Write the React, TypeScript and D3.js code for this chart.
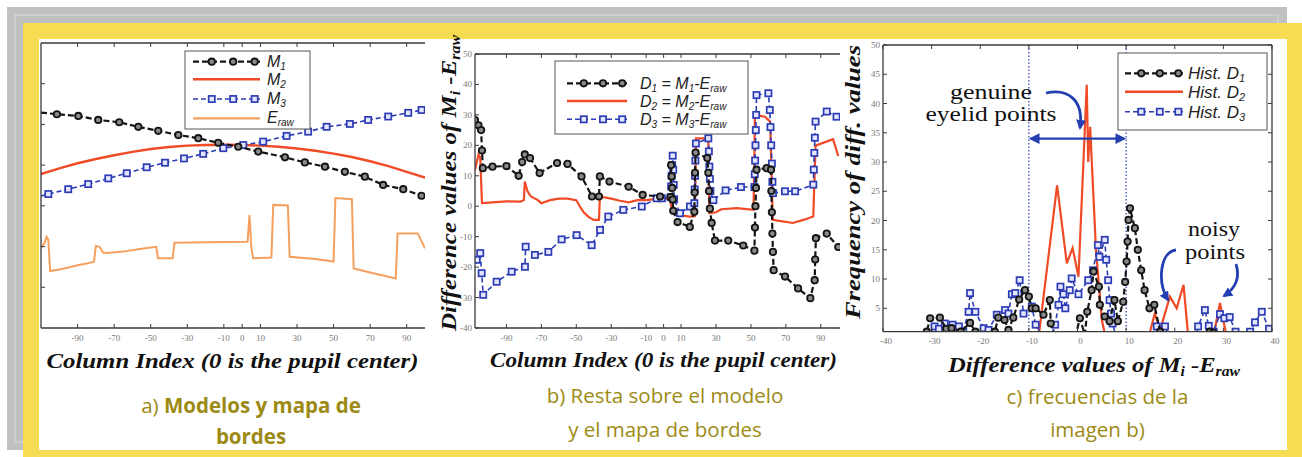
import React from 'react';
import * as d3 from 'd3';

// ---------------- Panel a: models and edge map ----------------
const aM1Cols = [-110, -101.3, -89.6, -78.7, -67.2, -56.8, -45.9, -34.9, -24, -13.1, -2.1, 8.8, 23.4, 34.3, 45.3, 56.2, 67.1, 77.1, 88.1, 98.1];
const aM1Vals = [75.6, 75.0, 74.4, 73.0, 72.2, 70.6, 69.2, 67.7, 66.6, 65.0, 63.6, 61.9, 59.9, 58.1, 56.6, 54.8, 53.1, 50.2, 48.7, 46.4];
const aM2Cols = [-110, -100, -90, -80, -70, -60, -50, -40, -30, -20, -10, 0, 10, 20, 30, 40, 50, 60, 70, 80, 90, 100];
const aM2Vals = [54, 56, 57.8, 59.3, 60.6, 61.8, 62.8, 63.5, 64, 64.2, 64.3, 64.2, 64, 63.6, 63, 62.2, 61.2, 60, 58.5, 56.8, 54.8, 52.8];
const aM3Cols = [-110, -106, -95.1, -84.2, -73.2, -63.1, -52.2, -42.2, -31.8, -21.3, -10.3, 0.6, 11.5, 24.3, 36.1, 46.2, 58.9, 68.9, 79.9, 90.8, 98.1];
const aM3Vals = [46.3, 47.0, 48.7, 50.5, 52.5, 54.3, 56.4, 58.0, 59.5, 61.1, 63.1, 64.2, 65.4, 67.4, 68.9, 70.6, 71.6, 73.0, 74.2, 75.5, 76.5];
const aErawCols = [-110, -108, -107, -106, -105, -100, -95, -90, -85, -81, -80, -78, -76, -74, -65, -55, -47, -46, -38, -37, -20, 3, 4, 5, 6, 16, 17, 25, 26, 40, 50, 51, 60, 61, 70, 84, 85, 96, 100];
const aErawVals = [28, 30, 32, 31, 20, 20.5, 21.2, 22, 22.6, 23.3, 28.8, 28.5, 26.5, 26.3, 26.8, 27.8, 28.5, 24.5, 24.5, 29.9, 30.1, 30.3, 39.6, 28.5, 24.5, 24.7, 43.2, 43.0, 25, 24.2, 23.3, 45.6, 45.2, 20.9, 19.5, 17.4, 33.2, 33.2, 28];
const aXTicks = [-90, -70, -50, -30, -10, 0, 10, 30, 50, 70, 90];
const aYTicks = [1, 2, 3, 4, 5, 6].map(i => (i * 100) / 7);

// ---------------- Panel b: differences ----------------
const bD1Cols = [-108, -106, -104.5, -104, -103.5, -98, -90, -83, -81, -79.5, -76.5, -71, -61, -55, -47, -41, -37, -36.5, -31, -20, -12, -2, 4, 4.3, 4.6, 4.9, 5.2, 5.5, 8, 15, 17.6, 17.8, 18, 18.3, 25, 25.6, 26, 26.5, 27.5, 29.4, 37, 45.6, 52, 52.3, 52.6, 52.9, 53.2, 59, 61.5, 61.7, 62, 62.3, 62.6, 63, 69.5, 77, 84, 86.5, 86.8, 87.2, 93.4, 100];
const bD1Vals = [28.3, 26.6, 25, 18.3, 12.5, 13, 13.2, 10, 14.5, 17, 15.8, 10.9, 14.2, 13.9, 9.8, 3.2, 3.2, 9.8, 8.1, 6.4, 3.7, 3.2, 3, 13.5, 9.8, 6, 2.2, -1.5, -5.2, -6.8, -1.8, 4.5, 11, 17.6, 15.8, 11, 5, -0.8, -5.5, -11.3, -11.3, -12.9, -14.6, -7, 0, 6, 12, 12.5, 12, 5, -2, -9, -15, -21, -23.1, -27, -30.2, -24.3, -17.5, -10.5, -9, -13.4];
const bD2Cols = [-108, -106, -105, -104, -100, -90, -82, -80, -79.5, -78, -76, -72, -70, -65, -60, -55, -50, -48, -46, -43, -40, -37, -36.5, -30, -25, -20, -15, -10, -5, 0, 3, 4, 5, 10, 15, 18, 18.5, 25.6, 26.2, 30, 33, 42, 51.5, 52.3, 58, 61, 62.5, 68, 74, 80, 85.7, 87, 97, 100];
const bD2Vals = [12, 17, 16, 1, 1.2, 1.6, 1.5, 2, 8.1, 5, 3.2, 2, 1, 2, 2.5, 2.5, 2, 0, -1.8, -3.5, -4.5, -4.5, 3.2, 2.5, 1.8, 1.3, 2, 2, 2.3, 2.5, 2.5, 1, -2.3, -3, -3.4, -3.2, 22.3, 22.3, -2.3, -2, -1, -0.6, -1.2, 30, 29.4, 27.8, -4.5, -5, -5.5, -4.5, -3.4, 19.9, 22, 16.5];
const bD3Cols = [-107, -105, -104.2, -103.3, -95.6, -87, -79.4, -79, -73.7, -66, -58.4, -49.8, -41.2, -36.4, -31.7, -23.1, -12.5, -4, -1, 4, 4.3, 4.6, 4.9, 5.2, 5.5, 5.8, 6, 9.4, 15.1, 17.6, 17.8, 18, 18.2, 18.5, 25.6, 25.9, 26.2, 26.5, 26.8, 28.5, 35.5, 44.3, 52, 52.2, 52.4, 52.6, 52.8, 53, 53.2, 60, 60.8, 61.2, 61.6, 62, 62.3, 62.6, 69.5, 75.3, 85.7, 86, 86.3, 86.6, 87, 93.4, 99];
const bD3Vals = [-17.6, -15.4, -22, -29.1, -24.8, -21.5, -19.9, -13.3, -16, -15, -10.9, -9.5, -12.8, -7.8, -3.4, -1.2, -0.1, 2.6, 2.6, 3, 6.5, 10, 13.5, 16.6, 12, 7, 2.3, -2.3, -0.1, 1, 5.5, 10, 15, 20.6, 22.3, 18, 13, 9, 5, 2, 5.2, 6.3, 6.3, 10.5, 15, 20, 25, 30, 36.5, 37.1, 31.6, 26, 20, 14, 8, 4.3, 4.9, 4.9, 7.1, 12, 17.5, 22.5, 27.8, 31.1, 29.4];
const bYTicks = [-40, -30, -20, -10, 0, 10, 20, 30, 40, 50];

// ---------------- Panel c: histograms ----------------
const cH1X = [-32, -31, -30.3, -28.3, -27, -25.9, -24, -22.1, -21, -20, -17, -16.3, -15, -14.2, -13.2, -12, -10.8, -10, -9.4, -8.6, -7, -5.7, -5.5, -4.5, -0.5, 0.5, 1.5, 2, 2.9, 3.3, 4.4, 4.6, 5.6, 6.6, 7.6, 8.3, 9.4, 9.8, 10.1, 10.3, 10.5, 10.8, 11.8, 12.4, 13.1, 13.8, 14.8, 15.8, 17, 18, 26, 27.2, 28, 29];
const cH1Y = [0, 1, 3.3, 3.4, 1.5, 1.6, 1, 2.5, 1, 0, 1, 3.4, 3, 1.3, 3.4, 6.5, 8.1, 7, 5, 5, 3.9, 6.4, 2.4, 0, 0, 3.3, 0.5, 4.4, 8.1, 11.3, 8.7, 5.6, 3.6, 2.8, 6.4, 2.8, 6.1, 9.5, 13, 16.4, 20.1, 22.1, 18.7, 15, 11.5, 8.1, 5, 5.6, 1, 0, 0, 1, 0.8, 0];
const cH2X = [-8, -4.2, -2.2, -1, 0.2, 1.9, 2.2, 2.6, 3.8, 5, 5.8, 14.6, 15.9, 17, 19, 20.4, 21.8, 22.8, 27.9, 29.3, 30.7];
const cH2Y = [0, 26, 12.7, 15.3, 10.4, 43.2, 30, 36, 15, 3, 0, 0, 4.1, 1.3, 7, 5, 9, 0, 0, 5.9, 0];
const cH3X = [-31, -29.4, -28.5, -27.3, -25.7, -24.4, -23.5, -22.4, -22.1, -21, -19.3, -18.3, -16.6, -14.9, -14.2, -13.5, -12.8, -11.9, -11.1, -9.4, -8.6, -7, -5.5, -4.6, -3.9, -3.5, -2.9, -2.5, -1.6, -1.2, 0.2, 2.2, 3.2, 4.2, 4.5, 5.6, 5.9, 6.3, 6.6, 6.9, 7.2, 8, 15.5, 16.3, 18, 19, 24, 24.8, 26.2, 27, 28, 29.3, 30.2, 31.3, 32.5, 35.5, 36.5, 37.9, 39.4];
const cH3Y = [0, 1.9, 1.5, 2.4, 2.2, 1.9, 1, 4.4, 7.6, 4.4, 1.6, 1.3, 3.9, 4.7, 4.1, 7.4, 7.6, 9.8, 4.1, 5.3, 2.2, 0, 0, 2.2, 5.6, 8.7, 7.4, 5, 8.1, 10.1, 7.4, 9.8, 11.5, 15.8, 13.8, 16.7, 13.3, 9.8, 6.4, 4.1, 2.4, 0, 0, 1.9, 1.9, 0, 0, 1.9, 4.7, 2, 1, 4, 3.3, 3.5, 1, 1, 2.6, 4.4, 1.5];
const cXTicks = [-40, -30, -20, -10, 0, 10, 20, 30, 40];
const cYTicks = [5, 10, 15, 20, 25, 30, 35, 40, 45, 50];
const cGenuineBounds = [-10, 10];
const cGenuineArrowLevel = 34;

// ---------------- styling ----------------
const SERIF = '"Liberation Serif", "Times New Roman", serif';
const SANS = '"Liberation Sans", Arial, sans-serif';
const CAP = '"Open Sans", "Noto Sans", sans-serif';
const BLACK = '#141414';
const RED = '#f04a26';
const BLUE = '#2c3cb4';
const ORANGE = '#f5a05e';
const FRAME = '#3a3a3a';
const TICKLBL = '#777';
const CAPCOL = '#9c8a14';
const ANNOT = '#2440b0';

type Sc = d3.ScaleLinear<number, number>;

function pathOf(xs: number[], ys: number[], sx: Sc, sy: Sc) {
  const pts: [number, number][] = xs.map((x, i) => [sx(x), sy(ys[i])]);
  return d3.line()(pts) || '';
}

function Circles({ xs, ys, sx, sy }: { xs: number[]; ys: number[]; sx: Sc; sy: Sc }) {
  return (
    <g>
      {xs.map((x, i) => (
        <circle key={i} cx={sx(x)} cy={sy(ys[i])} r={3.2} fill="#8a8a8a" stroke={BLACK} strokeWidth={1.8} />
      ))}
    </g>
  );
}

function Squares({ xs, ys, sx, sy }: { xs: number[]; ys: number[]; sx: Sc; sy: Sc }) {
  return (
    <g>
      {xs.map((x, i) => (
        <rect key={i} x={sx(x) - 3.1} y={sy(ys[i]) - 3.1} width={6.2} height={6.2} fill="#e4e6ff" stroke={BLUE} strokeWidth={1.7} />
      ))}
    </g>
  );
}

function Frame({ sx, sy, xt, yt, right, showRight }: { sx: Sc; sy: Sc; xt: number[]; yt: number[]; right?: boolean; showRight: boolean }) {
  const [x0, x1] = sx.range();
  const [y0, y1] = sy.range();
  const tl = 4;
  return (
    <g stroke={FRAME} fill="none">
      <line x1={x0} y1={y0} x2={x1} y2={y0} strokeWidth={1.3} />
      <line x1={x0} y1={y1} x2={x1} y2={y1} strokeWidth={1.3} />
      <line x1={x0} y1={y0} x2={x0} y2={y1} strokeWidth={1.3} />
      {showRight && <line x1={x1} y1={y0} x2={x1} y2={y1} strokeWidth={1.3} />}
      {xt.map((t, i) => (
        <g key={'x' + i}>
          <line x1={sx(t)} x2={sx(t)} y1={y0} y2={y0 - tl} strokeWidth={1} />
          <line x1={sx(t)} x2={sx(t)} y1={y1} y2={y1 + tl} strokeWidth={1} />
        </g>
      ))}
      {yt.map((t, i) => (
        <g key={'y' + i}>
          <line x1={x0} x2={x0 + tl} y1={sy(t)} y2={sy(t)} strokeWidth={1} />
          {right && <line x1={x1} x2={x1 - tl} y1={sy(t)} y2={sy(t)} strokeWidth={1} />}
        </g>
      ))}
    </g>
  );
}

function LegendSample({ kind, x0, x1, y }: { kind: 'black' | 'red' | 'blue' | 'orange'; x0: number; x1: number; y: number }) {
  const fr = [0.28, 0.6, 0.92];
  if (kind === 'red') return <line x1={x0} x2={x1} y1={y} y2={y} stroke={RED} strokeWidth={2.4} />;
  if (kind === 'orange') return <line x1={x0} x2={x1} y1={y} y2={y} stroke={ORANGE} strokeWidth={2.2} />;
  if (kind === 'black')
    return (
      <g>
        <line x1={x0} x2={x1} y1={y} y2={y} stroke={BLACK} strokeWidth={2.2} strokeDasharray="6,3" />
        {fr.map((f, i) => (
          <circle key={i} cx={x0 + f * (x1 - x0)} cy={y} r={3.2} fill="#8a8a8a" stroke={BLACK} strokeWidth={1.8} />
        ))}
      </g>
    );
  return (
    <g>
      <line x1={x0} x2={x1} y1={y} y2={y} stroke={BLUE} strokeWidth={1.6} strokeDasharray="5,3" />
      {fr.map((f, i) => (
        <rect key={i} x={x0 + f * (x1 - x0) - 3.1} y={y - 3.1} width={6.2} height={6.2} fill="#e4e6ff" stroke={BLUE} strokeWidth={1.7} />
      ))}
    </g>
  );
}

export default function App() {
  const ax = d3.scaleLinear().domain([-110, 100]).range([41, 425]);
  const ay = d3.scaleLinear().domain([0, 100]).range([328, 43]);
  const bx = d3.scaleLinear().domain([-108, 101]).range([475, 840]);
  const by = d3.scaleLinear().domain([-40, 50]).range([328, 54]);
  const cx = d3.scaleLinear().domain([-40, 40]).range([883, 1272]);
  const cy = d3.scaleLinear().domain([1, 50]).range([331.7, 45]);

  const tickFont = { fontFamily: SERIF, fontSize: 9, fill: TICKLBL } as const;
  const titleFont = { fontFamily: SERIF, fontSize: 22, fontStyle: 'italic', fontWeight: 'bold', fill: '#111' } as const;
  const legFont = { fontFamily: SANS, fontSize: 17, fontStyle: 'italic', fill: '#222' } as const;
  const capFont = { fontFamily: CAP, fontSize: 20.5, fill: CAPCOL } as const;
  const annFont = { fontFamily: SERIF, fontSize: 20, fill: '#111' } as const;

  return (
    <svg width={1302} height={457} style={{ position: 'absolute', left: 0, top: 0 }} xmlns="http://www.w3.org/2000/svg">
      <defs>
        <clipPath id="clipA"><rect x={41} y={43} width={384} height={285} /></clipPath>
        <clipPath id="clipB"><rect x={475} y={54} width={365} height={274} /></clipPath>
        <clipPath id="clipC"><rect x={883} y={45} width={389} height={286.7} /></clipPath>
        <marker id="ahead" viewBox="0 0 10 10" refX="8" refY="5" markerWidth="4.5" markerHeight="4.5" orient="auto-start-reverse">
          <path d="M0,0 L10,5 L0,10 z" fill={ANNOT} />
        </marker>
        <marker id="ahead2" viewBox="0 0 10 10" refX="8" refY="5" markerWidth="3.6" markerHeight="3.6" orient="auto-start-reverse">
          <path d="M0,0 L10,5 L0,10 z" fill={ANNOT} />
        </marker>
      </defs>

      {/* background frames */}
      <rect x={7} y={7} width={1280} height={443} fill="#c0c0c0" />
      <rect x={15} y={15} width={1263} height={427} fill="none" stroke="#d9d9d9" strokeWidth={1} />
      <rect x={23} y={23} width={1279} height={434} fill="#f5dc52" />
      <rect x={39} y={39} width={1248} height={411} fill="#ffffff" />

      {/* ============ Panel a ============ */}
      <g clipPath="url(#clipA)">
        <path d={pathOf(aErawCols, aErawVals, ax, ay)} fill="none" stroke={ORANGE} strokeWidth={2} />
        <path d={pathOf(aM2Cols, aM2Vals, ax, ay)} fill="none" stroke={RED} strokeWidth={2.4} />
        <path d={pathOf(aM3Cols, aM3Vals, ax, ay)} fill="none" stroke={BLUE} strokeWidth={1.6} strokeDasharray="5,3" />
        <Squares xs={aM3Cols.slice(1)} ys={aM3Vals.slice(1)} sx={ax} sy={ay} />
        <path d={pathOf(aM1Cols, aM1Vals, ax, ay)} fill="none" stroke={BLACK} strokeWidth={2.2} strokeDasharray="6,3" />
        <Circles xs={aM1Cols.slice(1)} ys={aM1Vals.slice(1)} sx={ax} sy={ay} />
      </g>
      <Frame sx={ax} sy={ay} xt={aXTicks} yt={aYTicks} showRight={false} />
      {aXTicks.map((t, i) => (
        <text key={i} x={ax(t)} y={341} textAnchor="middle" {...tickFont}>{t}</text>
      ))}
      <text x={232.5} y={368} textAnchor="middle" textLength={372} lengthAdjust="spacingAndGlyphs" {...titleFont}>Column Index (0 is the pupil center)</text>
      {/* legend a */}
      <rect x={185} y={51} width={125} height={78} fill="#fff" stroke="#555" strokeWidth={1} />
      <LegendSample kind="black" x0={193} x1={260} y={61.7} />
      <LegendSample kind="red" x0={193} x1={260} y={79.3} />
      <LegendSample kind="blue" x0={193} x1={260} y={99} />
      <LegendSample kind="orange" x0={193} x1={260} y={118.3} />
      <text x={267} y={67} {...legFont} fontSize={16}>M<tspan dy={3} fontSize={10}>1</tspan></text>
      <text x={267} y={85} {...legFont} fontSize={16}>M<tspan dy={3} fontSize={10}>2</tspan></text>
      <text x={267} y={104} {...legFont} fontSize={16}>M<tspan dy={3} fontSize={10}>3</tspan></text>
      <text x={267} y={123} {...legFont} fontSize={16}>E<tspan dy={3} fontSize={10}>raw</tspan></text>
      <text x={251} y={413} textAnchor="middle" {...capFont}>a) <tspan fontWeight="bold">Modelos y mapa de</tspan></text>
      <text x={251} y={444} textAnchor="middle" {...capFont} fontWeight="bold">bordes</text>

      {/* ============ Panel b ============ */}
      <g clipPath="url(#clipB)">
        <path d={pathOf(bD2Cols, bD2Vals, bx, by)} fill="none" stroke={RED} strokeWidth={2.2} />
        <path d={pathOf(bD3Cols, bD3Vals, bx, by)} fill="none" stroke={BLUE} strokeWidth={1.6} strokeDasharray="5,3" />
        <Squares xs={bD3Cols} ys={bD3Vals} sx={bx} sy={by} />
        <path d={pathOf(bD1Cols, bD1Vals, bx, by)} fill="none" stroke={BLACK} strokeWidth={2.2} strokeDasharray="6,3" />
        <Circles xs={bD1Cols} ys={bD1Vals} sx={bx} sy={by} />
      </g>
      <Frame sx={bx} sy={by} xt={aXTicks} yt={bYTicks} showRight={false} />
      {aXTicks.map((t, i) => (
        <text key={i} x={bx(t)} y={341} textAnchor="middle" {...tickFont}>{t}</text>
      ))}
      {bYTicks.map((t, i) => (
        <text key={i} x={472} y={by(t) + 3} textAnchor="end" {...tickFont}>{t}</text>
      ))}
      <text x={663.5} y={367} textAnchor="middle" textLength={347} lengthAdjust="spacingAndGlyphs" {...titleFont}>Column Index (0 is the pupil center)</text>
      <text transform="translate(456,183) rotate(-90)" textAnchor="middle" textLength={296} lengthAdjust="spacingAndGlyphs" {...titleFont}>
        Difference values of M<tspan dy={4} fontSize={14}>i</tspan><tspan dy={-4}> -E</tspan><tspan dy={4} fontSize={14}>raw</tspan>
      </text>
      {/* legend b */}
      <rect x={555} y={61} width={193} height={73} fill="#fff" stroke="#555" strokeWidth={1} />
      <LegendSample kind="black" x0={567} x1={627} y={83.3} />
      <LegendSample kind="red" x0={567} x1={627} y={101} />
      <LegendSample kind="blue" x0={567} x1={627} y={119.3} />
      {[['1', 89], ['2', 107], ['3', 125]].map(([n, y], i) => (
        <text key={i} x={640} y={y as number} {...legFont} fontSize={16}>
          D<tspan dy={3} fontSize={10}>{n}</tspan><tspan dy={-3}> = M</tspan><tspan dy={3} fontSize={10}>{n}</tspan><tspan dy={-3}>-E</tspan><tspan dy={3} fontSize={10}>raw</tspan>
        </text>
      ))}
      <text x={665} y={403} textAnchor="middle" {...capFont}>b) Resta sobre el modelo</text>
      <text x={665} y={437} textAnchor="middle" {...capFont}>y el mapa de bordes</text>

      {/* ============ Panel c ============ */}
      {cGenuineBounds.map((v, i) => (
        <line key={i} x1={cx(v)} x2={cx(v)} y1={45} y2={331.7} stroke={BLUE} strokeWidth={1.2} strokeDasharray="1.5,2" />
      ))}
      <g clipPath="url(#clipC)">
        <path d={pathOf(cH2X, cH2Y, cx, cy)} fill="none" stroke={RED} strokeWidth={2.2} />
        <path d={pathOf(cH3X, cH3Y, cx, cy)} fill="none" stroke={BLUE} strokeWidth={1.6} strokeDasharray="5,3" />
        <Squares xs={cH3X} ys={cH3Y} sx={cx} sy={cy} />
        <path d={pathOf(cH1X, cH1Y, cx, cy)} fill="none" stroke={BLACK} strokeWidth={2.2} strokeDasharray="6,3" />
        <Circles xs={cH1X} ys={cH1Y} sx={cx} sy={cy} />
      </g>
      <Frame sx={cx} sy={cy} xt={cXTicks} yt={cYTicks} right showRight />
      {cXTicks.map((t, i) => (
        <text key={i} x={cx(t) + 3} y={344} textAnchor="middle" {...tickFont}>{t}</text>
      ))}
      {cYTicks.map((t, i) => (
        <text key={i} x={880} y={cy(t) + 3} textAnchor="end" {...tickFont}>{t}</text>
      ))}
      <text x={1094} y={372} textAnchor="middle" textLength={292} lengthAdjust="spacingAndGlyphs" {...titleFont}>
        Difference values of M<tspan dy={4} fontSize={14}>i</tspan><tspan dy={-4}> -E</tspan><tspan dy={4} fontSize={14}>raw</tspan>
      </text>
      <text transform="translate(860,182) rotate(-90)" textAnchor="middle" textLength={274} lengthAdjust="spacingAndGlyphs" {...titleFont}>Frequency of diff. values</text>
      {/* annotations */}
      <line x1={cx(cGenuineBounds[0]) + 2} x2={cx(cGenuineBounds[1]) - 2} y1={cy(cGenuineArrowLevel)} y2={cy(cGenuineArrowLevel)} stroke={ANNOT} strokeWidth={2.4} markerStart="url(#ahead)" markerEnd="url(#ahead)" />
      <text x={991} y={99} textAnchor="middle" textLength={82} lengthAdjust="spacingAndGlyphs" {...annFont}>genuine</text>
      <text x={991} y={121} textAnchor="middle" textLength={131} lengthAdjust="spacingAndGlyphs" {...annFont}>eyelid points</text>
      <path d="M1046,93 C1068,88 1084,100 1080,128" fill="none" stroke={ANNOT} strokeWidth={2.8} markerEnd="url(#ahead2)" />
      <text x={1214} y={236} textAnchor="middle" textLength={52} lengthAdjust="spacingAndGlyphs" {...annFont}>noisy</text>
      <text x={1215} y={259} textAnchor="middle" textLength={60} lengthAdjust="spacingAndGlyphs" {...annFont}>points</text>
      <path d="M1176,250 C1160,252 1157,282 1168,300" fill="none" stroke={ANNOT} strokeWidth={2.8} markerEnd="url(#ahead2)" />
      <path d="M1236,264 C1241,280 1233,290 1224,296" fill="none" stroke={ANNOT} strokeWidth={2.8} markerEnd="url(#ahead2)" />
      {/* legend c */}
      <rect x={1118} y={53} width={149} height={77} fill="#fff" stroke="#555" strokeWidth={1} />
      <LegendSample kind="black" x0={1125} x1={1183} y={73.3} />
      <LegendSample kind="red" x0={1125} x1={1183} y={91.7} />
      <LegendSample kind="blue" x0={1125} x1={1183} y={111.7} />
      {[['1', 79], ['2', 97.5], ['3', 117.5]].map(([n, y], i) => (
        <text key={i} x={1188} y={y as number} {...legFont}>
          Hist. D<tspan dy={3} fontSize={11}>{n}</tspan>
        </text>
      ))}
      <text x={1097.5} y={404} textAnchor="middle" {...capFont}>c) frecuencias de la</text>
      <text x={1097.5} y={437} textAnchor="middle" {...capFont}>imagen b)</text>
    </svg>
  );
}
